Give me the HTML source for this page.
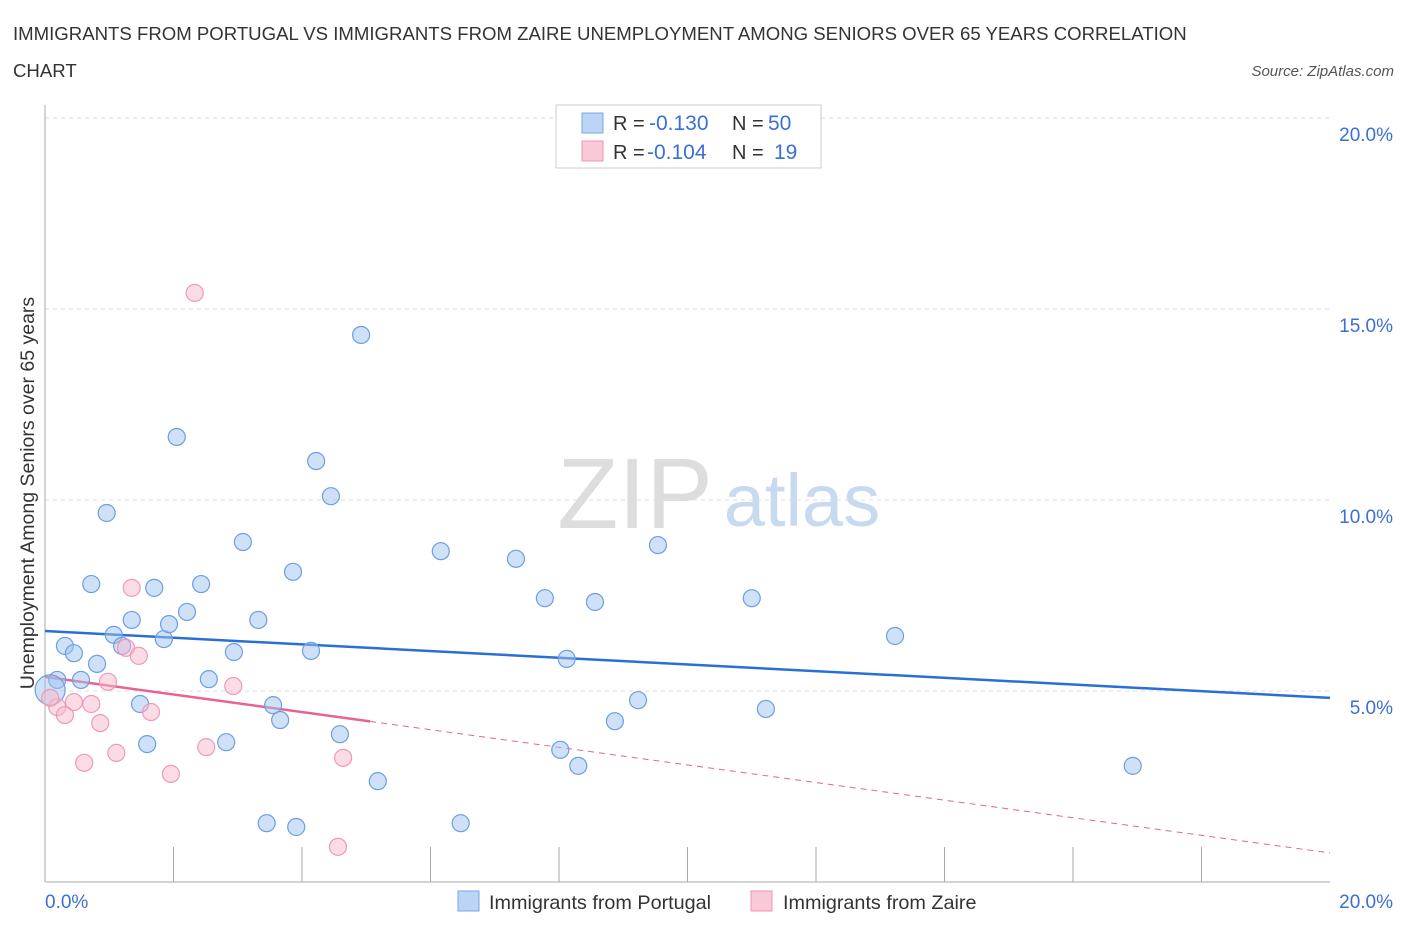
<!DOCTYPE html>
<html><head><meta charset="utf-8"><style>
body{margin:0;background:#fff;font-family:"Liberation Sans",sans-serif;}
svg text{font-family:"Liberation Sans",sans-serif;}
</style></head><body>
<svg id="c" width="1406" height="930" xmlns="http://www.w3.org/2000/svg">
<text x="13" y="40" font-size="18.6" fill="#333">IMMIGRANTS FROM PORTUGAL VS IMMIGRANTS FROM ZAIRE UNEMPLOYMENT AMONG SENIORS OVER 65 YEARS CORRELATION</text>
<text x="13" y="77" font-size="18.6" fill="#333">CHART</text>
<text x="1394" y="76" font-size="15" fill="#555" font-style="italic" text-anchor="end">Source: ZipAtlas.com</text>
<text x="34" y="493" font-size="19.5" fill="#333" text-anchor="middle" transform="rotate(-90 34 493)">Unemployment Among Seniors over 65 years</text>
<g><text x="635" y="528" font-size="100" fill="#ddd" font-family="Liberation Serif" text-anchor="middle">ZIP</text><text x="802" y="526" font-size="74" fill="#c8daf0" text-anchor="middle">atlas</text></g>
<g id="grid"></g><g id="axes"></g><g id="trend"></g><g id="pts"></g>
<g>
<rect x="556" y="105" width="265" height="63" fill="#fff" stroke="#ccc"/>
<rect x="582" y="113" width="21" height="20" fill="#bcd4f6" stroke="#7aa6e6"/>
<rect x="582" y="141" width="21" height="20" fill="#f9c9d8" stroke="#ee94b2"/>
<text x="613" y="130" font-size="20" fill="#333">R =</text><text x="649" y="130" font-size="21" fill="#3b6fd6">-0.130</text>
<text x="732" y="130" font-size="20" fill="#333">N =</text><text x="768" y="130" font-size="21" fill="#3b6fd6">50</text>
<text x="613" y="159" font-size="20" fill="#333">R =</text><text x="647" y="159" font-size="21" fill="#3b6fd6">-0.104</text>
<text x="732" y="159" font-size="20" fill="#333">N =</text><text x="774" y="159" font-size="21" fill="#3b6fd6">19</text>
</g>
<g>
<rect x="458" y="891" width="21" height="20" fill="#bcd4f6" stroke="#7aa6e6"/>
<text x="489" y="909" font-size="19.8" fill="#333">Immigrants from Portugal</text>
<rect x="751" y="891" width="21" height="20" fill="#f9c9d8" stroke="#ee94b2"/>
<text x="783" y="909" font-size="19.8" fill="#333">Immigrants from Zaire</text>
</g>
</svg>
<script>
const yTicks=[5,10,15,20];
const yTickLabels=["5.0%","10.0%","15.0%","20.0%"];
const blueX=[0.19,0.31,0.45,0.56,0.72,0.81,0.96,1.07,1.20,1.35,1.48,1.59,1.70,1.85,1.93,2.05,2.21,2.43,2.55,2.82,2.94,3.08,3.32,3.45,3.55,3.66,3.86,3.91,4.14,4.22,4.45,4.59,4.92,5.18,6.16,6.47,7.33,7.78,8.02,8.12,8.30,8.56,8.87,9.23,9.54,11.00,11.22,13.23,16.93,0.08];
const blueY=[5.29,6.18,5.99,5.29,7.80,5.71,9.66,6.47,6.18,6.86,4.66,3.61,7.70,6.36,6.75,11.65,7.07,7.80,5.31,3.66,6.02,8.90,6.86,1.54,4.63,4.24,8.12,1.44,6.05,11.02,10.10,3.87,14.32,2.64,8.66,1.54,8.46,7.43,3.46,5.84,3.04,7.33,4.21,4.76,8.82,7.43,4.53,6.44,3.04,5.03];
const pinkX=[2.33,1.35,1.26,1.46,0.98,2.93,0.45,0.72,0.19,0.31,1.65,0.86,2.51,1.11,0.61,1.96,4.64,4.56,0.08];
const pinkY=[15.42,7.70,6.13,5.92,5.24,5.13,4.71,4.66,4.58,4.37,4.45,4.16,3.53,3.38,3.12,2.83,3.25,0.92,4.82];
const blueTrend=[6.57,4.82];
const pinkTrend=[5.37,0.76];
const pinkSolidEnd=5.06;
const NS="http://www.w3.org/2000/svg";
const sx=v=>45+v/20*1285, sy=v=>882-v/5*191;
function mk(tag,attrs,parent){const e=document.createElementNS(NS,tag);for(const k in attrs)e.setAttribute(k,attrs[k]);document.getElementById(parent).appendChild(e);return e;}
yTicks.forEach((t,i)=>{
 const g=mk('line',{x1:45,x2:1330,y1:sy(t),y2:sy(t),stroke:'#ddd','stroke-dasharray':'4,4'},'grid');
 
 
 const tx=mk('text',{x:1393,y:sy(t)+23,'font-size':19,fill:'#3b6fd6','text-anchor':'end'},'grid');
 tx.textContent=yTickLabels[i];
 
 
});
let a=mk('line',{x1:45,x2:45,y1:105,y2:882,stroke:'#aaa'},'axes');


a=mk('line',{x1:45,x2:1330,y1:882,y2:882,stroke:'#aaa'},'axes');


for(let i=1;i<=10;i++){const t=mk('line',{x1:sx(i*2),x2:sx(i*2),y1:882,y2:i==10?882:847,stroke:'#aaa'},'axes');
 
 }
let xl=mk('text',{x:45,y:908,'font-size':19,fill:'#3b6fd6'},'axes');xl.textContent='0.0%';


xl=mk('text',{x:1393,y:908,'font-size':19,fill:'#3b6fd6','text-anchor':'end'},'axes');xl.textContent='20.0%';


const lin=(tr,x)=>tr[0]+(tr[1]-tr[0])*x/20;
let l=mk('line',{x1:sx(0),y1:sy(blueTrend[0]),x2:sx(20),y2:sy(blueTrend[1]),stroke:'#2a6fd6','stroke-width':2.5},'trend');


l=mk('line',{x1:sx(0),y1:sy(pinkTrend[0]),x2:sx(pinkSolidEnd),y2:sy(lin(pinkTrend,pinkSolidEnd)),stroke:'#e8638f','stroke-width':2.5},'trend');


l=mk('line',{x1:sx(pinkSolidEnd),y1:sy(lin(pinkTrend,pinkSolidEnd)),x2:sx(20),y2:sy(pinkTrend[1]),stroke:'#e8638f','stroke-width':1,'stroke-dasharray':'6,5'},'trend');


blueX.forEach((x,i)=>{const big=i==blueX.length-1;
 const c=mk('circle',{cx:sx(x),cy:sy(blueY[i]),r:big?15:8.5,fill:'rgba(160,195,240,0.5)',stroke:'#6d9ee4','stroke-width':1.2},'pts');
 
 });
pinkX.forEach((x,i)=>{
 const c=mk('circle',{cx:sx(x),cy:sy(pinkY[i]),r:8.5,fill:'rgba(248,185,205,0.5)',stroke:'#ee9ab6','stroke-width':1.2},'pts');
 
 });
</script>
</body></html>
